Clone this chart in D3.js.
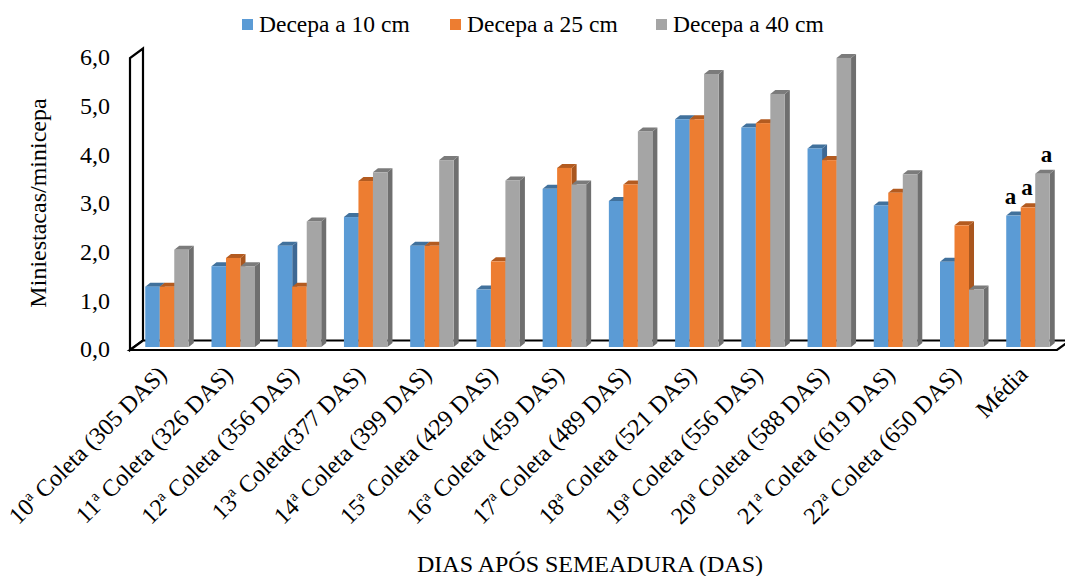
<!DOCTYPE html>
<html>
<head>
<meta charset="utf-8">
<script src="https://cdn.jsdelivr.net/npm/d3@7"></script>
<style>
  html, body { margin: 0; padding: 0; background: #fff; }
  svg { display: block; }
  svg text { font-family: "Liberation Serif"; }
</style>
</head>
<body>
<svg id="chart" width="1065" height="576"></svg>
<script>
// Collection dates (days after sowing) and the overall mean
const categories = [
  "10ª Coleta (305 DAS)", "11ª Coleta (326 DAS)", "12ª Coleta (356 DAS)",
  "13ª Coleta(377 DAS)", "14ª Coleta (399 DAS)", "15ª Coleta (429 DAS)",
  "16ª Coleta (459 DAS)", "17ª Coleta (489 DAS)", "18ª Coleta (521 DAS)",
  "19ª Coleta (556 DAS)", "20ª Coleta (588 DAS)", "21ª Coleta (619 DAS)",
  "22ª Coleta (650 DAS)", "Média"
];
const seriesNames = ["Decepa a 10 cm", "Decepa a 25 cm", "Decepa a 40 cm"];
const decepa10 = [1.24, 1.66, 2.08, 2.67, 2.08, 1.18, 3.25, 3.00, 4.68, 4.51, 4.08, 2.91, 1.75, 2.70];
const decepa25 = [1.24, 1.83, 1.24, 3.41, 2.08, 1.76, 3.68, 3.34, 4.68, 4.60, 3.84, 3.17, 2.50, 2.87];
const decepa40 = [2.00, 1.66, 2.58, 3.59, 3.84, 3.42, 3.34, 4.43, 5.61, 5.20, 5.94, 3.55, 1.18, 3.56];
const yTicks = [0, 1, 2, 3, 4, 5, 6];
const meanLetters = ["a", "a", "a"];

const seriesValues = [decepa10, decepa25, decepa40];
const front = ["#5B9BD5", "#ED7D31", "#A5A5A5"];
const topFace = ["#41719C", "#B35B20", "#7B7B7B"];
const sideFace = ["#3D6894", "#A9561E", "#6F6F6F"];

const SERIF = "Liberation Serif";
const svg = d3.select("#chart");
const FONT = 24;

// Front plane of the 3D box and its depth offset
const floorY = 350, wallX = 130;
const depth = { dx: 13, dy: -9.5 };
const barDepth = { dx: 5, dy: -4 };

const x = d3.scaleBand().domain(categories).range([134, 1061]).paddingInner(0.343).paddingOuter(0.17);
const y = d3.scaleLinear().domain([0, 6]).range([floorY, 58]);
const sub = d3.scaleBand().domain(d3.range(3)).range([0, x.bandwidth()]);

// Back wall (left) and floor outlines
const wallTop = y(6);
svg.append("path")
  .attr("d", `M${wallX},${floorY} L${wallX},${wallTop} L${wallX + depth.dx},${wallTop + depth.dy} L${wallX + depth.dx},${floorY + depth.dy} Z`)
  .attr("fill", "#fff").attr("stroke", "#000").attr("stroke-width", 2.2).attr("stroke-linejoin", "miter");
const floorRight = 1057;
svg.append("path")
  .attr("d", `M${wallX},${floorY} L${floorRight},${floorY} L${floorRight + depth.dx},${floorY + depth.dy} L${wallX + depth.dx},${floorY + depth.dy} Z`)
  .attr("fill", "#fff").attr("stroke", "#000").attr("stroke-width", 2.2);

// Y axis labels
const yAxis = d3.axisLeft(y).tickValues(yTicks).tickSize(0).tickPadding(0)
  .tickFormat(d => d3.format(".1f")(d).replace(".", ","));
const gy = svg.append("g").attr("transform", `translate(110,-1)`).call(yAxis);
gy.select(".domain").remove();
gy.attr("font-family", SERIF).attr("font-size", FONT);
gy.selectAll("text").style("font-family", SERIF).attr("fill", "#000");

// Bars: front face, right side face, top face
const bars = svg.append("g").attr("transform", "translate(0,-3)");
categories.forEach((c, i) => {
  seriesValues.forEach((vals, s) => {
    const x0 = x(c) + sub(s), w = sub.bandwidth();
    const yt = y(vals[i]), yb = y(0);
    const g = bars.append("g");
    g.append("path")
      .attr("d", `M${x0 + w},${yt} L${x0 + w + barDepth.dx},${yt + barDepth.dy} L${x0 + w + barDepth.dx},${yb + barDepth.dy} L${x0 + w},${yb} Z`)
      .attr("fill", sideFace[s]);
    g.append("path")
      .attr("d", `M${x0},${yt} L${x0 + barDepth.dx},${yt + barDepth.dy} L${x0 + w + barDepth.dx},${yt + barDepth.dy} L${x0 + w},${yt} Z`)
      .attr("fill", topFace[s]);
    g.append("rect")
      .attr("x", x0).attr("y", yt).attr("width", w).attr("height", yb - yt)
      .attr("fill", front[s]);
  });
});

// Letters above the mean bars
const last = categories[categories.length - 1];
const meanVals = seriesValues.map(v => v[v.length - 1]);
svg.append("g").selectAll("text").data(meanLetters).join("text")
  .attr("x", (d, s) => x(last) + sub(s) + sub.bandwidth() / 2 + [-3, -1, 4][s])
  .attr("y", (d, s) => y(meanVals[s]) - 15)
  .attr("text-anchor", "middle").style("font-family", SERIF).style("font-size", "23px").attr("font-weight", "bold")
  .text(d => d);

// Category labels rotated -45°
const catG = svg.append("g");
categories.forEach(c => {
  const t = catG.append("text")
    .attr("transform", `translate(${x(c) + x.bandwidth() / 2 + 1},${376}) rotate(-45)`)
    .attr("text-anchor", "end").style("font-family", SERIF).style("font-size", FONT + "px");
  const parts = c.split("ª");
  if (parts.length === 2) {
    t.append("tspan").text(parts[0]);
    t.append("tspan").style("font-size", "15px").attr("dy", -9).text("a");
    t.append("tspan").attr("dy", 9).text(parts[1]);
  } else {
    t.text(c);
  }
});

// Axis titles
svg.append("text").attr("x", 590).attr("y", 572).attr("text-anchor", "middle")
  .style("font-family", SERIF).style("font-size", FONT + "px").text("DIAS APÓS SEMEADURA (DAS)");
svg.append("text").attr("transform", "translate(46,203) rotate(-90)")
  .attr("text-anchor", "middle").style("font-family", SERIF).style("font-size", FONT + "px").text("Miniestacas/minicepa");

// Legend
const legendX = [242, 450, 656];
const legend = svg.append("g");
seriesNames.forEach((n, s) => {
  legend.append("rect").attr("x", legendX[s]).attr("y", 19).attr("width", 11).attr("height", 11).attr("fill", front[s]);
  legend.append("text").attr("x", legendX[s] + 17).attr("y", 32).style("font-family", SERIF).style("font-size", "23.5px").text(n);
});
</script>
</body>
</html>
